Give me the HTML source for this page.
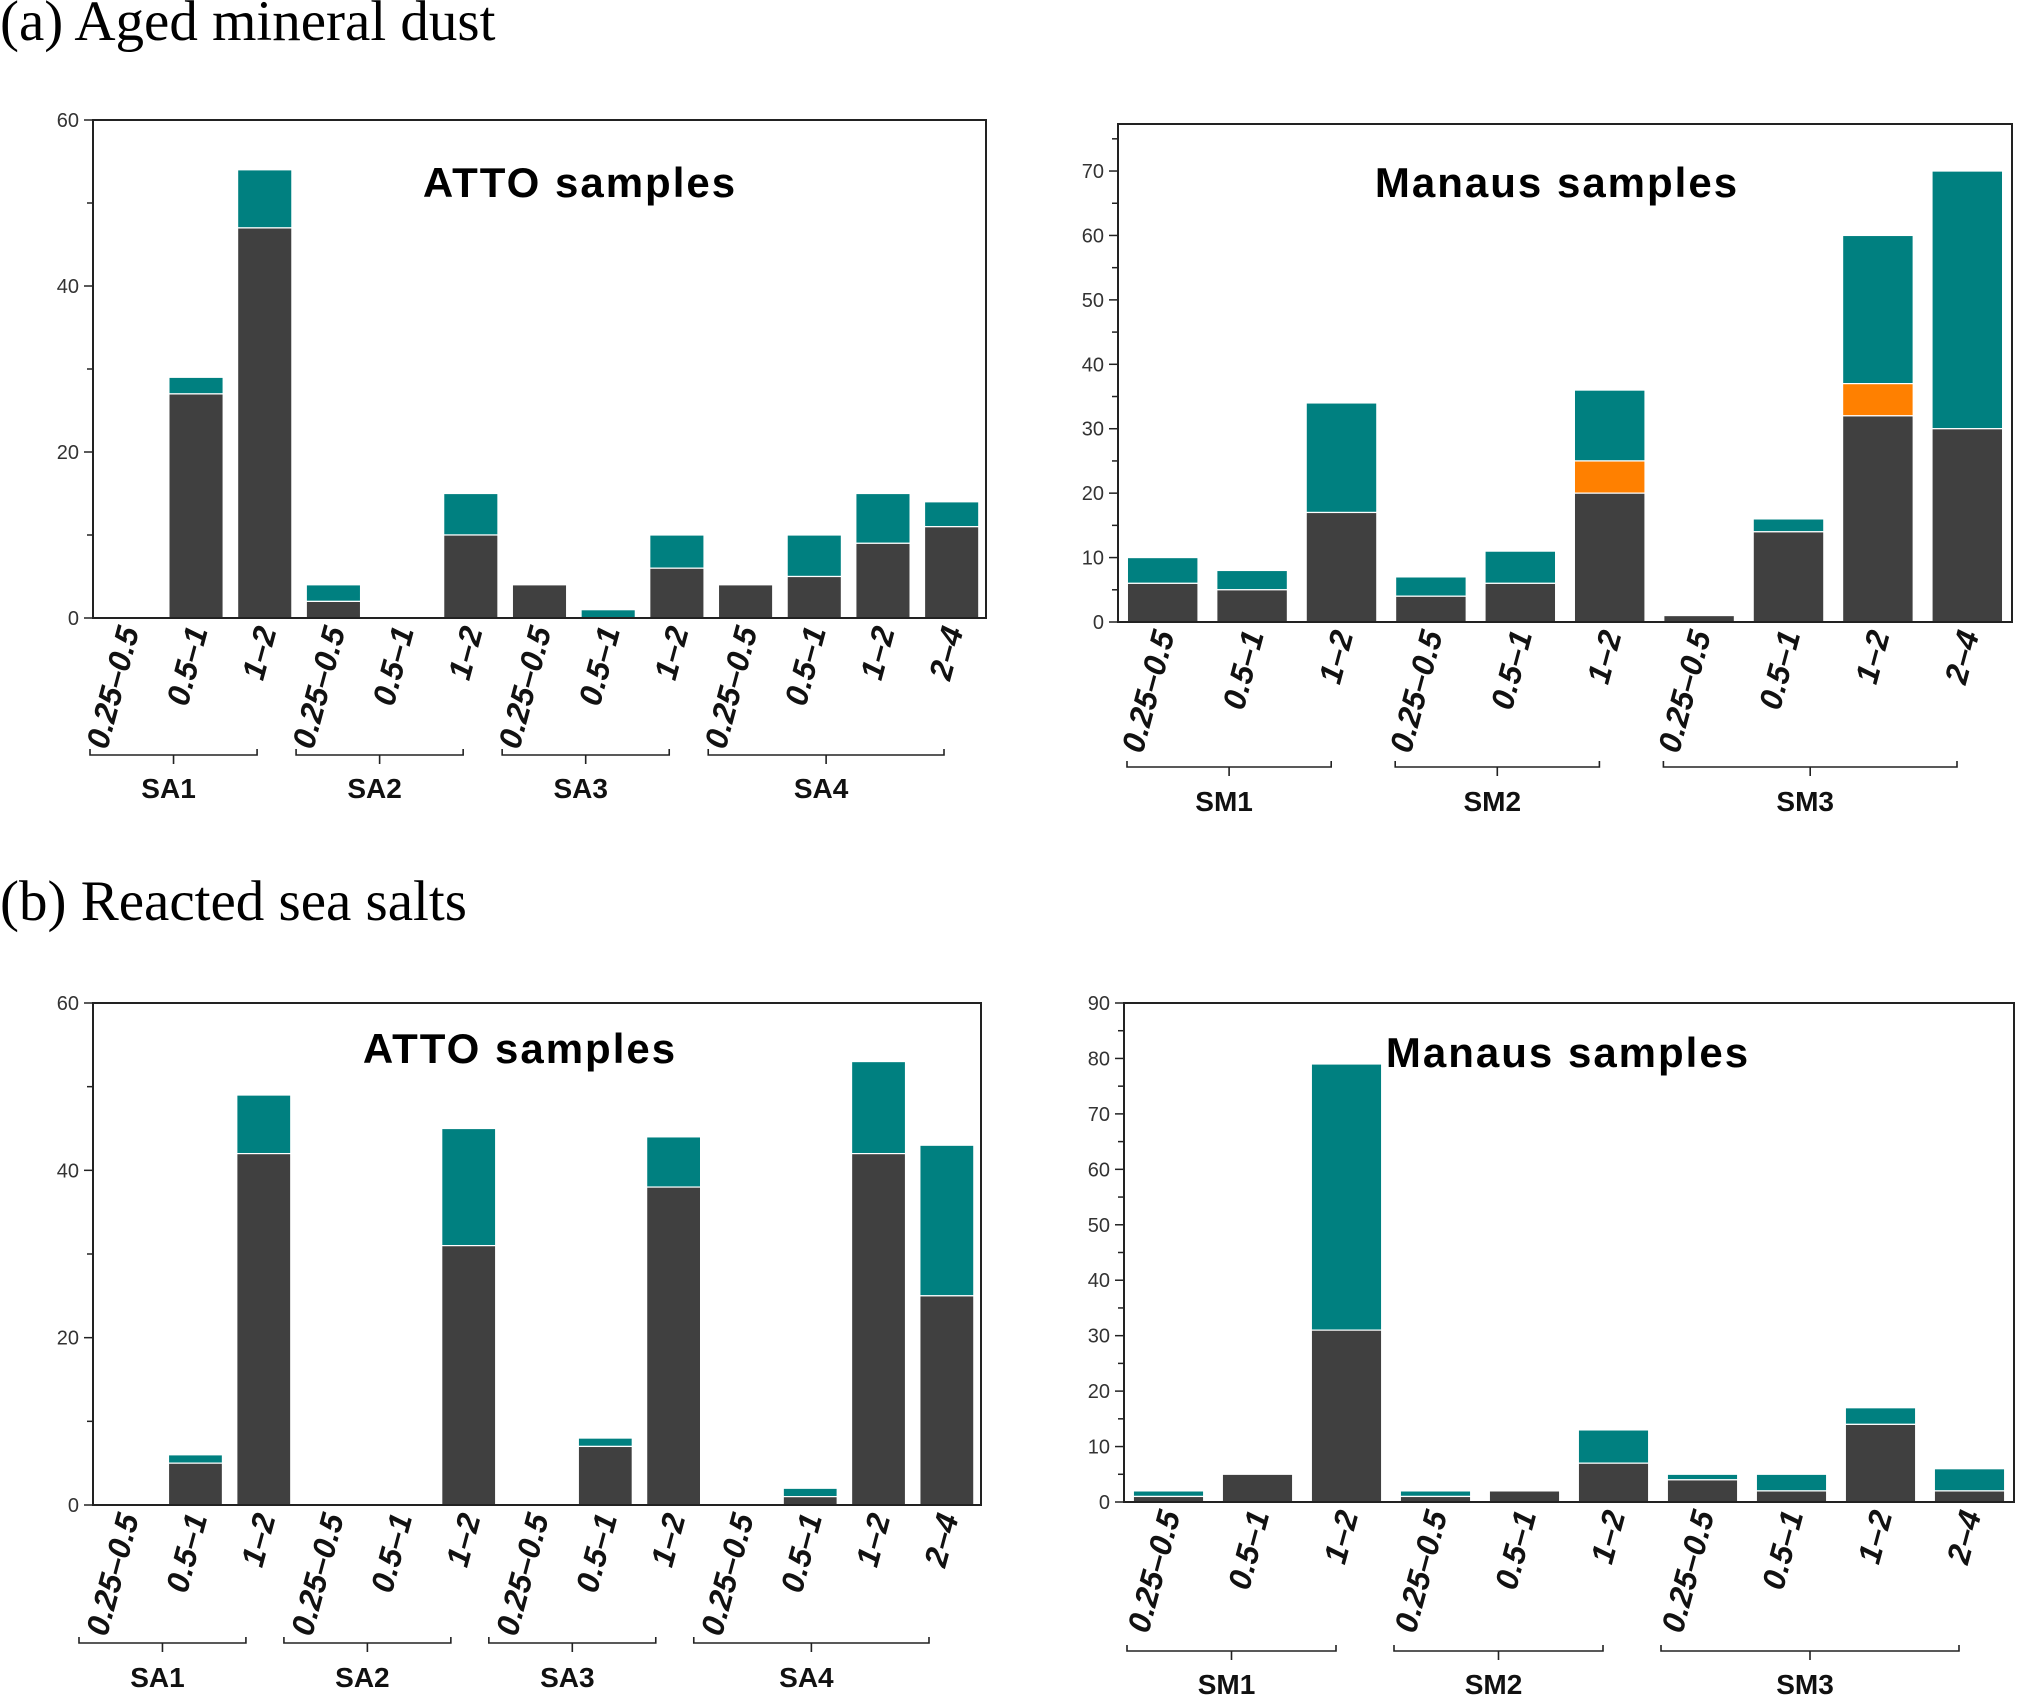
<!DOCTYPE html>
<html><head><meta charset="utf-8"><style>
html,body{margin:0;padding:0;background:#fff;}
svg{display:block;}
text{font-family:"Liberation Sans",Arial,sans-serif;}
</style></head><body>
<svg id="fig" width="2018" height="1703" viewBox="0 0 2018 1703" xmlns="http://www.w3.org/2000/svg">
<text x="0" y="40" font-size="57" fill="#000" style="font-family:'Liberation Serif',serif">(a) Aged mineral dust</text>
<text x="0" y="920" font-size="57" fill="#000" style="font-family:'Liberation Serif',serif">(b) Reacted sea salts</text>
</svg>
<script>
const attoCats = ["0.25–0.5","0.5–1","1–2","0.25–0.5","0.5–1","1–2","0.25–0.5","0.5–1","1–2","0.25–0.5","0.5–1","1–2","2–4"];
const manausCats = ["0.25–0.5","0.5–1","1–2","0.25–0.5","0.5–1","1–2","0.25–0.5","0.5–1","1–2","2–4"];
const attoGroups = [["SA1",0,2],["SA2",3,5],["SA3",6,8],["SA4",9,12]];
const manausGroups = [["SM1",0,2],["SM2",3,5],["SM3",6,9]];

const aAttoDark = [0,27,47,2,0,10,4,0,6,4,5,9,11];
const aAttoOrange = [0,0,0,0,0,0,0,0,0,0,0,0,0];
const aAttoTotal = [0,29,54,4,0,15,4,1,10,4,10,15,14];

const aManausDark = [6,5,17,4,6,20,1,14,32,30];
const aManausOrange = [0,0,0,0,0,5,0,0,5,0];
const aManausTotal = [10,8,34,7,11,36,1,16,60,70];

const bAttoDark = [0,5,42,0,0,31,0,7,38,0,1,42,25];
const bAttoOrange = [0,0,0,0,0,0,0,0,0,0,0,0,0];
const bAttoTotal = [0,6,49,0,0,45,0,8,44,0,2,53,43];

const bManausDark = [1,5,31,1,2,7,4,2,14,2];
const bManausOrange = [0,0,0,0,0,0,0,0,0,0];
const bManausTotal = [2,5,79,2,2,13,5,5,17,6];

const NS = "http://www.w3.org/2000/svg";
const svg = document.getElementById("fig");
function mk(tag, attrs, parent){
  const e = document.createElementNS(NS, tag);
  for (const k in attrs) e.setAttribute(k, attrs[k]);
  (parent||svg).appendChild(e);
  return e;
}

function chart(o){
  const g = mk("g", {});
  
  
  const n = o.cats.length;
  const bw = (o.x1 - o.x0) / n;
  const xBand = i => o.x0 + i * bw;
  const y = v => o.yb - (v / o.max) * (o.yb - o.yt);
  for (let v = 0; v <= o.max + 1e-9; v += o.minor) {
    const major = Math.abs(v / o.major - Math.round(v / o.major)) < 1e-6;
    const t = mk("line", {x1:o.x0 - (major?9:6), x2:o.x0, y1:y(v), y2:y(v), stroke:"#222", "stroke-width":1.5}, g);
    
    
    if (major) {
      const tl = mk("text", {x:o.x0 - 14, y:y(v) + 7, "text-anchor":"end", "font-size":20, fill:"#333"}, g);
      tl.textContent = Math.round(v);
      
      
    }
  }
  for (let i = 0; i < n; i++) {
    const cx = xBand(i) + bw / 2, w = bw * 0.79, lx = cx - w / 2;
    const d = o.dark[i], orv = o.orange[i], tot = o.total[i];
    if (tot > d + orv) {
      const r = mk("rect", {x:lx, y:y(tot), width:w, height:y(d+orv) - y(tot), fill:"#008080", stroke:"#ffffff", "stroke-width":1.2}, g);
      
      
    }
    if (orv > 0) {
      const r = mk("rect", {x:lx, y:y(d+orv), width:w, height:y(d) - y(d+orv), fill:"#ff8000", stroke:"#ffffff", "stroke-width":1.2}, g);
      
      
    }
    if (d > 0) {
      const r = mk("rect", {x:lx, y:y(d), width:w, height:y(0) - y(d), fill:"#404040", stroke:"#ffffff", "stroke-width":1.2}, g);
      
      
    }
    const tx = cx + 12, ty = o.yb + 12;
    const lbl = mk("text", {x:0, y:0, transform:`translate(${tx},${ty}) rotate(-75)`, "text-anchor":"end", "font-size":32, "font-weight":"bold", "font-style":"italic", fill:"#111"}, g);
    lbl.textContent = o.cats[i];
    
    
  }
  const fr = mk("rect", {x:o.x0, y:o.yt, width:o.x1 - o.x0, height:o.yb - o.yt, fill:"none", stroke:"#222", "stroke-width":2}, g);
  
  
  const tt = mk("text", {x:o.tx, y:o.ty, "text-anchor":"middle", "font-size":42, "font-weight":"bold", "letter-spacing":"2", fill:"#000"}, g);
  tt.textContent = o.title;
  
  
  o.groups.forEach(gr => {
    const s = xBand(gr[1]) + o.bs, e = xBand(gr[2] + 1) + o.be, m = (s + e) / 2;
    const p = mk("path", {d:`M${s},${o.by-6} L${s},${o.by} L${e},${o.by} L${e},${o.by-6} M${m},${o.by} L${m},${o.by+9}`, fill:"none", stroke:"#222", "stroke-width":1.6}, g);
    
    
    const gl = mk("text", {x:m - 5, y:o.gy, "text-anchor":"middle", "font-size":28, "font-weight":"bold", fill:"#111"}, g);
    gl.textContent = gr[0];
    
    
  });
}

chart({name:"chart-a-atto", cats:attoCats, groups:attoGroups, dark:aAttoDark, orange:aAttoOrange, total:aAttoTotal,
  x0:93, x1:986, yt:120, yb:618, max:60, major:20, minor:10, title:"ATTO samples", tx:580, ty:197,
  by:755, gy:798, bs:-3, be:-42});
chart({name:"chart-a-manaus", cats:manausCats, groups:manausGroups, dark:aManausDark, orange:aManausOrange, total:aManausTotal,
  x0:1118, x1:2012, yt:124, yb:622, max:77.3, major:10, minor:5, title:"Manaus samples", tx:1557, ty:197,
  by:767, gy:811, bs:9, be:-55});
chart({name:"chart-b-atto", cats:attoCats, groups:attoGroups, dark:bAttoDark, orange:bAttoOrange, total:bAttoTotal,
  x0:93, x1:981, yt:1003, yb:1505, max:60, major:20, minor:10, title:"ATTO samples", tx:520, ty:1063,
  by:1643, gy:1687, bs:-14, be:-52});
chart({name:"chart-b-manaus", cats:manausCats, groups:manausGroups, dark:bManausDark, orange:bManausOrange, total:bManausTotal,
  x0:1124, x1:2014, yt:1003, yb:1502, max:90, major:10, minor:5, title:"Manaus samples", tx:1568, ty:1067,
  by:1651, gy:1694, bs:3, be:-55});
</script>
</body></html>
